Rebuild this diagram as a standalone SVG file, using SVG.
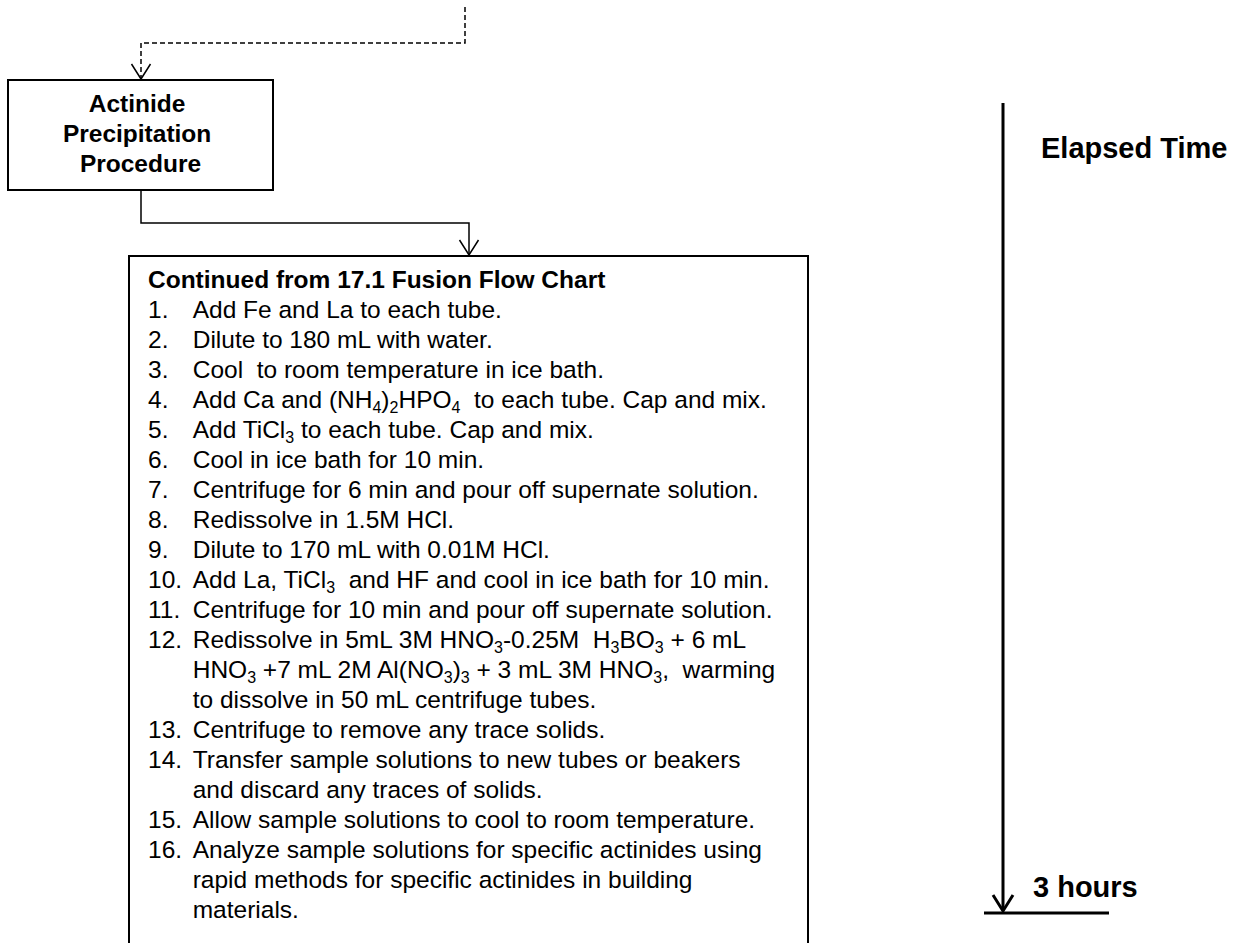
<svg xmlns="http://www.w3.org/2000/svg" width="1243" height="943" viewBox="0 0 1243 943">
  <style>
    .box { fill: #fff; stroke: #000; stroke-width: 2; }
    .t { font-family: "Liberation Sans", Arial, Helvetica, sans-serif; font-size: 24.5px; fill: #000; }
    .b { font-weight: bold; }
    .big { font-family: "Liberation Sans", Arial, Helvetica, sans-serif; font-size: 29px; font-weight: bold; fill: #000; }
    .sub { font-size: 16px; }
    .conn { fill: none; stroke: #000; stroke-width: 1.5; }
    .dash { stroke-dasharray: 5 3; }
    .axis { fill: none; stroke: #000; stroke-width: 3; }
  </style>

  <!-- connectors -->
  <g id="connectors">
    <path class="conn dash" d="M465,7 V43 H141 V79"/>
    <path class="conn" d="M131.5,64 L141,79 L150.5,64"/>
    <path class="conn" d="M141,190 V223 H469 V255"/>
    <path class="conn" d="M459.5,240 L469,255 L478.5,240"/>
  </g>

  <!-- procedure heading box -->
  <g id="actinide-precipitation">
    <rect class="box" x="8" y="80" width="265" height="110"/>
    <text class="t b" text-anchor="middle">
      <tspan x="140.5" y="112">Actinide</tspan>
      <tspan x="140.5" y="142">Precipitation</tspan>
      <tspan x="140.5" y="172">Procedure</tspan>
    </text>
  </g>

  <!-- step list box -->
  <g id="steps">
    <rect class="box" x="129" y="256" width="679" height="720"/>
    <text class="t b" x="148" y="288">Continued from 17.1 Fusion Flow Chart</text>
    <g class="t">
      <text x="148" y="318">1.</text>
      <text x="192.7" y="318">Add Fe and La to each tube.</text>
      <text x="148" y="348">2.</text>
      <text x="192.7" y="348">Dilute to 180 mL with water.</text>
      <text x="148" y="378">3.</text>
      <text x="192.7" y="378" xml:space="preserve">Cool  to room temperature in ice bath.</text>
      <text x="148" y="408">4.</text>
      <text x="192.7" y="408" xml:space="preserve">Add Ca and (NH<tspan class="sub" dy="5">4</tspan><tspan dy="-5">)</tspan><tspan class="sub" dy="5">2</tspan><tspan dy="-5">HPO</tspan><tspan class="sub" dy="5">4</tspan><tspan dy="-5">  to each tube. Cap and mix.</tspan></text>
      <text x="148" y="438">5.</text>
      <text x="192.7" y="438">Add TiCl<tspan class="sub" dy="5">3</tspan><tspan dy="-5"> to each tube. Cap and mix.</tspan></text>
      <text x="148" y="468">6.</text>
      <text x="192.7" y="468">Cool in ice bath for 10 min.</text>
      <text x="148" y="498">7.</text>
      <text x="192.7" y="498">Centrifuge for 6 min and pour off supernate solution.</text>
      <text x="148" y="528">8.</text>
      <text x="192.7" y="528">Redissolve in 1.5M HCl.</text>
      <text x="148" y="558">9.</text>
      <text x="192.7" y="558">Dilute to 170 mL with 0.01M HCl.</text>
      <text x="148" y="588">10.</text>
      <text x="192.7" y="588" xml:space="preserve">Add La, TiCl<tspan class="sub" dy="5">3</tspan><tspan dy="-5">  and HF and cool in ice bath for 10 min.</tspan></text>
      <text x="148" y="618">11.</text>
      <text x="192.7" y="618">Centrifuge for 10 min and pour off supernate solution.</text>
      <text x="148" y="648">12.</text>
      <text x="192.7" y="648" xml:space="preserve">Redissolve in 5mL 3M HNO<tspan class="sub" dy="5">3</tspan><tspan dy="-5">-0.25M  H</tspan><tspan class="sub" dy="5">3</tspan><tspan dy="-5">BO</tspan><tspan class="sub" dy="5">3</tspan><tspan dy="-5"> + 6 mL</tspan></text>
      <text x="192.7" y="678" xml:space="preserve">HNO<tspan class="sub" dy="5">3</tspan><tspan dy="-5"> +7 mL 2M Al(NO</tspan><tspan class="sub" dy="5">3</tspan><tspan dy="-5">)</tspan><tspan class="sub" dy="5">3</tspan><tspan dy="-5"> + 3 mL 3M HNO</tspan><tspan class="sub" dy="5">3</tspan><tspan dy="-5">,  warming</tspan></text>
      <text x="192.7" y="708">to dissolve in 50 mL centrifuge tubes.</text>
      <text x="148" y="738">13.</text>
      <text x="192.7" y="738">Centrifuge to remove any trace solids.</text>
      <text x="148" y="768">14.</text>
      <text x="192.7" y="768">Transfer sample solutions to new tubes or beakers</text>
      <text x="192.7" y="798">and discard any traces of solids.</text>
      <text x="148" y="828">15.</text>
      <text x="192.7" y="828">Allow sample solutions to cool to room temperature.</text>
      <text x="148" y="858">16.</text>
      <text x="192.7" y="858">Analyze sample solutions for specific actinides using</text>
      <text x="192.7" y="888">rapid methods for specific actinides in building</text>
      <text x="192.7" y="918">materials.</text>
    </g>
  </g>

  <!-- elapsed time axis -->
  <g id="elapsed-time">
    <line class="axis" x1="1003" y1="103" x2="1003" y2="910"/>
    <path class="axis" d="M993,895 L1003,911 L1013,895"/>
    <line class="axis" x1="984" y1="913" x2="1109" y2="913"/>
    <text class="big" x="1041" y="158">Elapsed Time</text>
    <text class="big" x="1033" y="897">3 hours</text>
  </g>
</svg>
